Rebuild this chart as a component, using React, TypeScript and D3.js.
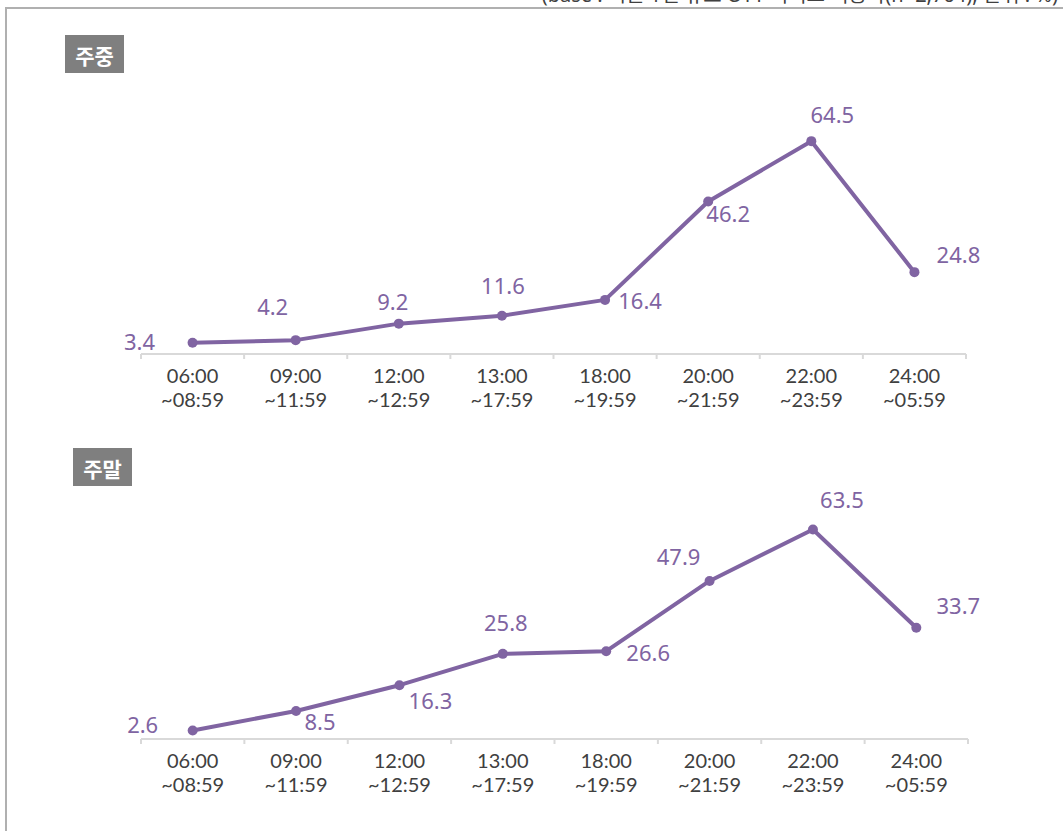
import React from "react";
import * as d3 from "d3";

const categoriesTop = ["06:00", "09:00", "12:00", "13:00", "18:00", "20:00", "22:00", "24:00"];
const categoriesBottom = ["~08:59", "~11:59", "~12:59", "~17:59", "~19:59", "~21:59", "~23:59", "~05:59"];
const weekdayValues = [3.4, 4.2, 9.2, 11.6, 16.4, 46.2, 64.5, 24.8];
const weekendValues = [2.6, 8.5, 16.3, 25.8, 26.6, 47.9, 63.5, 33.7];
const weekdayTitle = "주중";
const weekendTitle = "주말";
const noteText = "(base : 최근 1년 유료 OTT 서비스 이용자(n=2,764), 단위 : %)";

// label placement (style)
const weekdayLabelOffsets: [number, number][] = [
  [-53, -2], [-23, -34], [-6, -23], [1, -31], [35, 0], [20, 11], [21, -27], [44, -18],
];
const weekendLabelOffsets: [number, number][] = [
  [-50, -6], [24, 10], [31, 15], [3, -32], [42, 1], [-31, -25], [29, -30], [42, -23],
];

const W = 1063;
const H = 831;
const PURPLE = "#8064a2";
const FONT = "'Noto Sans', 'Noto Sans CJK KR', sans-serif";
const TICK_FONT = "Lato, 'Noto Sans', sans-serif";

function Panel({
  values,
  offsets,
  axisY,
  x0,
  x1,
  title,
  titleX,
  titleY,
}: {
  values: number[];
  offsets: [number, number][];
  axisY: number;
  x0: number;
  x1: number;
  title: string;
  titleX: number;
  titleY: number;
}) {
  const idx = d3.range(values.length);
  const x = d3.scaleBand<number>().domain(idx).range([x0, x1]);
  const y = d3.scaleLinear().domain([0, 100]).range([axisY, axisY - 330]);
  const cx = (i: number) => (x(i) as number) + x.bandwidth() / 2;
  const line = d3
    .line<number>()
    .x((_, i) => cx(i))
    .y((d) => y(d));
  const ticks = d3.range(values.length + 1).map((i) => x0 + i * x.bandwidth());
  return (
    <g>
      <rect x={titleX} y={titleY} width={59} height={38} fill="#7f7f7f" />
      <text
        x={titleX + 29.5}
        y={titleY + 20}
        fill="#fff"
        fontSize={21}
        fontWeight="bold"
        textAnchor="middle"
        dominantBaseline="central"
        fontFamily="'Noto Sans CJK KR', sans-serif"
      >
        {title}
      </text>
      <line x1={x0} x2={x1} y1={axisY} y2={axisY} stroke="#d9d9d9" strokeWidth={2} />
      {ticks.map((t, i) => (
        <line key={i} x1={t} x2={t} y1={axisY} y2={axisY + 5} stroke="#d9d9d9" strokeWidth={2} />
      ))}
      {idx.map((i) => (
        <g key={"c" + i}>
          <text
            x={cx(i)}
            y={axisY + 29}
            textAnchor="middle"
            fontSize={20}
            fill="#404040"
            fontFamily={TICK_FONT}
          >
            {categoriesTop[i]}
          </text>
          <text
            x={cx(i)}
            y={axisY + 53}
            textAnchor="middle"
            fontSize={20}
            fill="#404040"
            fontFamily={TICK_FONT}
          >
            {categoriesBottom[i]}
          </text>
        </g>
      ))}
      <path d={line(values) || ""} fill="none" stroke={PURPLE} strokeWidth={4} strokeLinejoin="round" />
      {values.map((v, i) => (
        <circle key={"p" + i} cx={cx(i)} cy={y(v)} r={5} fill={PURPLE} />
      ))}
      {values.map((v, i) => (
        <text
          key={"l" + i}
          x={cx(i) + offsets[i][0]}
          y={y(v) + offsets[i][1]}
          textAnchor="middle"
          dominantBaseline="central"
          fontSize={22}
          fill={PURPLE}
          fontFamily={FONT}
        >
          {v.toFixed(1)}
        </text>
      ))}
    </g>
  );
}

export default function App() {
  return (
    <svg
      width={W}
      height={H}
      style={{ position: "absolute", left: 0, top: 0, background: "#fff" }}
    >
      <rect x={0} y={0} width={W} height={H} fill="#fff" />
      <text
        x={1058}
        y={2}
        textAnchor="end"
        fontSize={20}
        fill="#404040"
        fontFamily={FONT}
      >
        {noteText}
      </text>
      <line x1={5} x2={W} y1={8} y2={8} stroke="#b0b0b0" strokeWidth={2} />
      <line x1={6} x2={6} y1={8} y2={H} stroke="#b0b0b0" strokeWidth={2} />
      <Panel
        values={weekdayValues}
        offsets={weekdayLabelOffsets}
        axisY={354}
        x0={141}
        x1={966}
        title={weekdayTitle}
        titleX={65}
        titleY={35}
      />
      <Panel
        values={weekendValues}
        offsets={weekendLabelOffsets}
        axisY={739}
        x0={141}
        x1={968}
        title={weekendTitle}
        titleX={73}
        titleY={448}
      />
    </svg>
  );
}
